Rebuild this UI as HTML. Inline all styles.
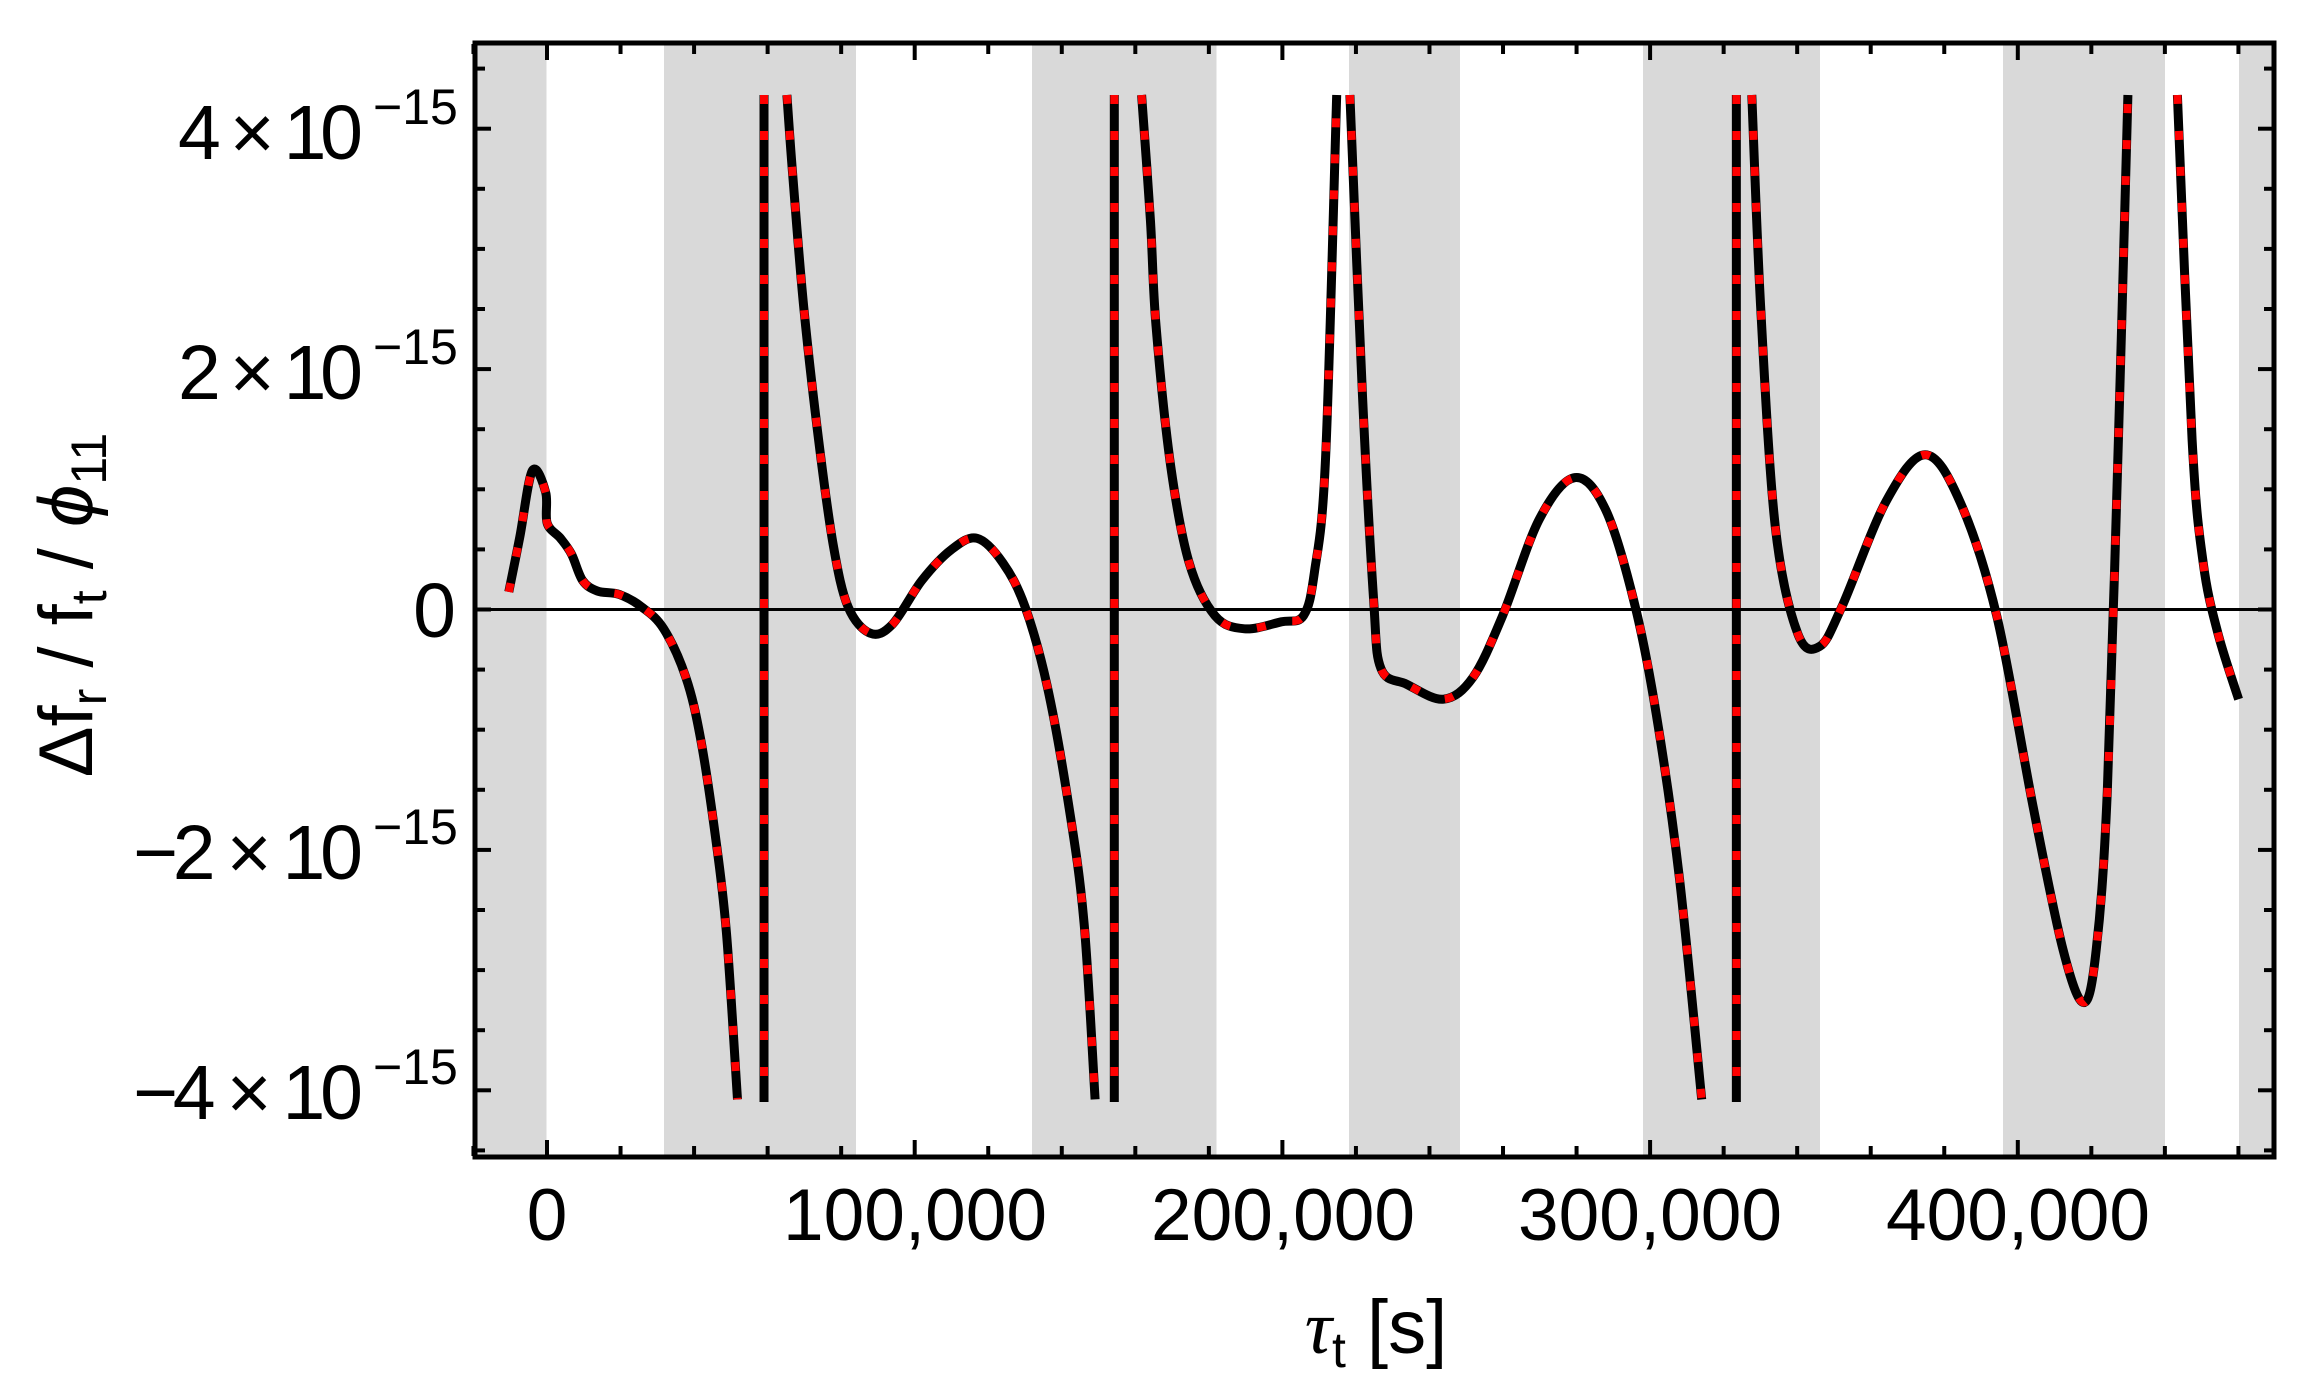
<!DOCTYPE html>
<html><head><meta charset="utf-8"><style>
html,body{margin:0;padding:0;background:#fff;}
svg{display:block;}
text{font-family:"Liberation Sans",sans-serif;fill:#000;}
</style></head><body>
<svg id="s" width="2313" height="1379" viewBox="0 0 2313 1379" xmlns="http://www.w3.org/2000/svg">
<g id="bands" fill="#d9d9d9"></g>
<line x1="473" y1="609.5" x2="2276" y2="609.5" stroke="#000" stroke-width="3"/>
<g id="curves"></g>
<g id="ticks" stroke="#000"></g>
<rect x="475" y="43" width="1799" height="1114" fill="none" stroke="#000" stroke-width="5"/>
<g font-size="77">
<text x="178" y="159" textLength="185" lengthAdjust="spacing">4 × 10</text><text x="373" y="124" font-size="50">−15</text>
<text x="178" y="399" textLength="185" lengthAdjust="spacing">2 × 10</text><text x="373" y="364" font-size="50">−15</text>
<text x="456" y="637" text-anchor="end">0</text>
<text x="133" y="879" textLength="230" lengthAdjust="spacing">−2 × 10</text><text x="373" y="844" font-size="50">−15</text>
<text x="133" y="1119" textLength="230" lengthAdjust="spacing">−4 × 10</text><text x="373" y="1084" font-size="50">−15</text>
</g>
<g font-size="73" text-anchor="middle">
<text x="547" y="1240">0</text>
<text x="915" y="1240">100,000</text>
<text x="1283" y="1240">200,000</text>
<text x="1650" y="1240">300,000</text>
<text x="2018" y="1240">400,000</text>
</g>
<text x="1376" y="1353" font-size="76" text-anchor="middle"><tspan font-style="italic" font-family="Liberation Serif">τ</tspan><tspan font-size="50" dy="14">t</tspan><tspan dy="-14"> [s]</tspan></text>
<text transform="translate(92,605) rotate(-90)" font-size="76" text-anchor="middle">Δf<tspan font-size="50" dy="14">r</tspan><tspan dy="-14"> / f</tspan><tspan font-size="50" dy="14">t</tspan><tspan dy="-14"> / </tspan><tspan font-style="italic">ϕ</tspan><tspan font-size="50" dy="14">11</tspan></text>
</svg>
<script>
var NS="http://www.w3.org/2000/svg";
function el(p,t,a){var e=document.createElementNS(NS,t);for(var k in a)e.setAttribute(k,a[k]);p.appendChild(e);return e;}
var bands=[[473,546.5],[664,856],[1032,1216.5],[1349,1460],[1643,1820],[2003,2165],[2239,2276]];
var bg=document.getElementById('bands');
bands.forEach(function(b){el(bg,'rect',{x:b[0],y:42,width:b[1]-b[0],height:1115});});
var tg=document.getElementById('ticks');
for(var v=-20000;v<=460000;v+=20000){var x=547+v*0.003677;var L=(v%100000===0)?16:10;
el(tg,'line',{x1:x,y1:1156,x2:x,y2:1156-L,'stroke-width':4});el(tg,'line',{x1:x,y1:44,x2:x,y2:44+L,'stroke-width':4});}
for(var k=-9;k<=9;k++){var y=609.5-k*60.1;if(y<44||y>1156)continue;var L=(k%4===0)?16:10;
el(tg,'line',{x1:475,y1:y,x2:475+L,y2:y,'stroke-width':4});el(tg,'line',{x1:2274,y1:y,x2:2274-L,y2:y,'stroke-width':4});}
var R=1567.5;
var segs=[
[[690,673],[705,610],[722,535],[740,560],[742,595],[760,612],[775,630],[790,660],[810,672],[840,676],[870,690],[900,715],[930,770],[950,840],[970,950],[985,1060],[1000,1250]],
[[1036,108],[1036,1253]],
[[1067,108],[1075,200],[1090,350],[1110,500],[1130,620],[1150,690],[1180,720],[1210,710],[1250,660],[1290,625],[1325,612],[1360,640],[1390,690],[1420,780],[1450,920],[1470,1050],[1485,1250]],
[[1511,108],[1511,1253]],
[[1548,108],[1560,250],[R+0,370],[R+20,530],[R+45,640],[R+80,700],[R+120,715],[R+170,707],[R+200,700],[R+215,650],[R+230,520],[R+245,108]],
[[R+263,108],[R+280,450],[R+295,680],[R+305,760],[R+340,778],[R+390,795],[R+430,770],[R+470,700],[R+520,590],[R+568,543],[R+610,580],[R+650,690],[R+680,820],[R+710,1000],[R+740,1250]],
[[R+787,108],[R+787,1253]],
[[R+808,108],[R+820,350],[R+840,600],[R+870,720],[R+900,735],[R+930,690],[R+990,570],[R+1043,517],[R+1090,570],[R+1140,700],[R+1190,920],[R+1230,1080],[R+1258,1140],[R+1275,1080],[R+1290,900],[R+1305,500],[R+1318,108]],
[[R+1385,108],[R+1405,500],[R+1420,640],[R+1440,720],[R+1468,795]]
];
var cg=document.getElementById('curves');
function pathOf(P){
 if(P.length<3) return 'M'+P[0][0]+','+P[0][1]+' L'+P[1][0]+','+P[1][1];
 var d='M'+P[0][0].toFixed(1)+','+P[0][1].toFixed(1);
 for(var i=0;i<P.length-1;i++){
  var p0=P[i-1]||P[i],p1=P[i],p2=P[i+1],p3=P[i+2]||P[i+1];
  var c1=[p1[0]+(p2[0]-p0[0])/6,p1[1]+(p2[1]-p0[1])/6];
  var c2=[p2[0]-(p3[0]-p1[0])/6,p2[1]-(p3[1]-p1[1])/6];
  d+=' C'+c1[0].toFixed(1)+','+c1[1].toFixed(1)+' '+c2[0].toFixed(1)+','+c2[1].toFixed(1)+' '+p2[0].toFixed(1)+','+p2[1].toFixed(1);
 }
 return d;
}
segs.forEach(function(s){
var P=s.map(function(p){return [p[0]/1.356,p[1]/1.137];});
var d=pathOf(P);
el(cg,'path',{d:d,fill:'none',stroke:'#000','stroke-width':9,'stroke-linejoin':'round'});
el(cg,'path',{d:d,fill:'none',stroke:'#ff0000','stroke-width':8,'stroke-dasharray':'9 27'});
});
</script>
</body></html>
